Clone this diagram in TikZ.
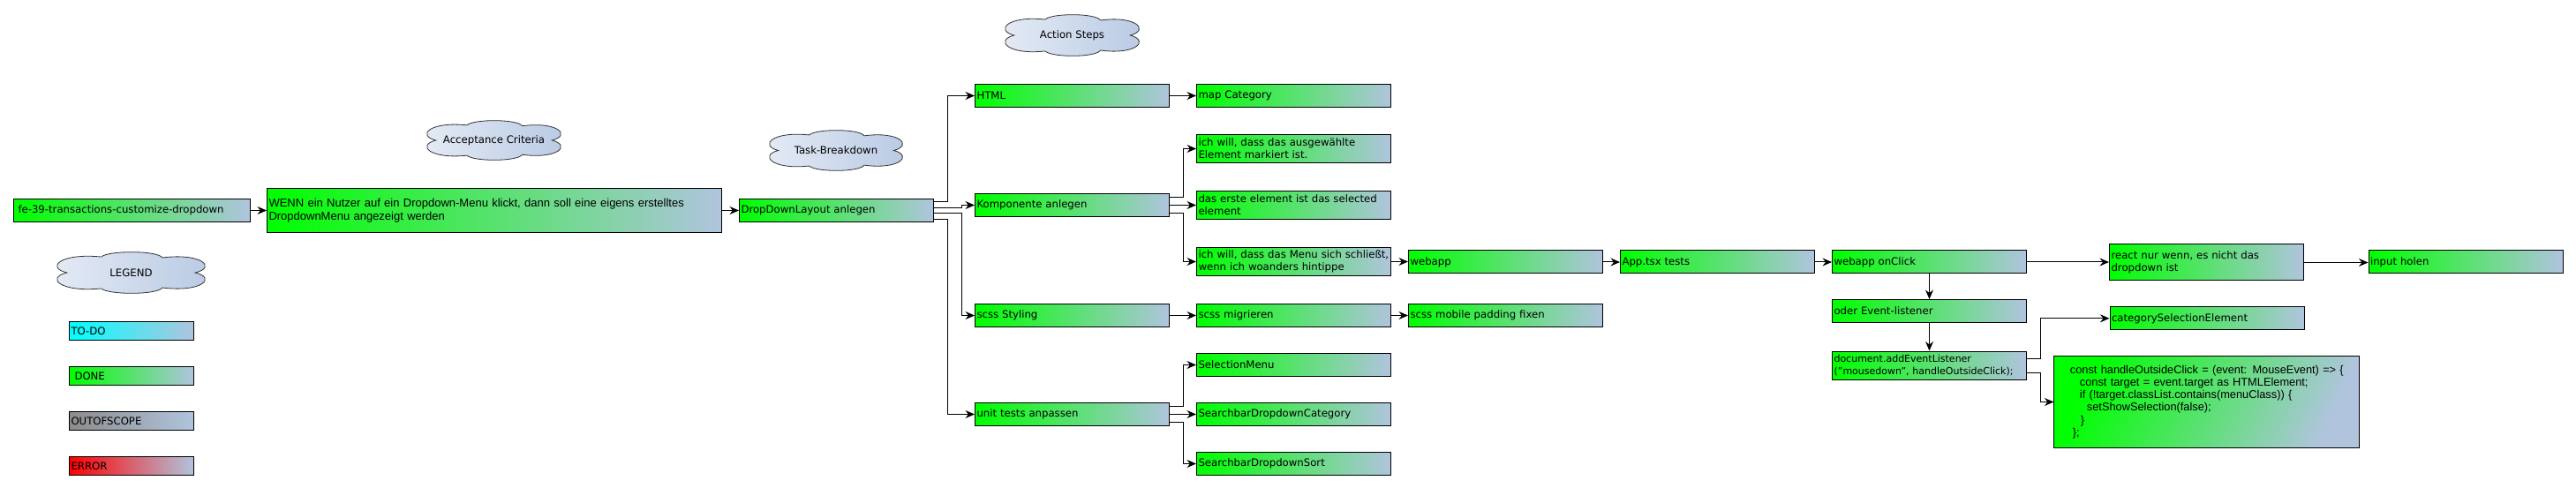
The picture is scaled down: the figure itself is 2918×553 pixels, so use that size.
\documentclass[tikz,border=0pt]{standalone}
\usepackage{fontspec}
\setmainfont{DejaVu Sans}
\newfontfamily\narrowfont{Liberation Sans}
\usetikzlibrary{arrows.meta}
\definecolor{stblue}{HTML}{B0C4DE}
\definecolor{cloudl}{HTML}{E6ECF6}
\definecolor{cloudr}{HTML}{B7C9E3}
\definecolor{oosgray}{HTML}{8C8C8C}
\tikzset{
  card/.style = {draw=black, line width=1pt, anchor=north west, align=left,
    inner xsep=2pt, inner ysep=0pt, right color=stblue, text width=216pt,
    minimum height=26pt, font=\fontsize{11.7}{14}\selectfont},% base box
  done/.style = {card, left color=green},% done task
  todo/.style = {card, left color=cyan},% still open
  oos/.style = {card, left color=oosgray},% out of scope
  err/.style = {card, left color=red},% error
  codebox/.style = {done, shading angle=65,
    font=\narrowfont\fontsize{12.8}{14.3}\selectfont},% code snippet
  cl/.style = {-, draw=black!80, line width=0.8pt, left color=cloudl,
    right color=cloudr},% cloud outline
  cltext/.style = {inner sep=0pt, font=\fontsize{11.7}{14}\selectfont},% cloud title
  titlecloud/.pic = {
    \path [cl] (-0.86,0) .. controls (-1.15,0.25) and (-0.95,0.98) .. (-0.4,0.78)
      .. controls (-0.3,1.1) and (0.35,1.1) .. (0.42,0.74)
      .. controls (0.95,0.98) and (1.15,0.25) .. (0.86,0)
      .. controls (1.15,-0.25) and (0.95,-0.98) .. (0.42,-0.74)
      .. controls (0.35,-1.1) and (-0.3,-1.1) .. (-0.4,-0.78)
      .. controls (-0.95,-0.98) and (-1.15,-0.25) .. (-0.86,0) -- cycle;
  }
}

\begin{document}
\begin{tikzpicture}[x=1pt,y=-1pt,->,>={Stealth[length=10.5pt,width=9pt,inset=3.5pt]},line width=1pt]
\useasboundingbox (0,0) rectangle (2918,553);

% titles
\pic [xscale=84.5, yscale=23] at (148.5,309) {titlecloud};
\node [cltext] (legend) at (148.5,309) {LEGEND};
\pic [xscale=76.5, yscale=22] at (559.5,159) {titlecloud};
\node [cltext] (accept) at (559.5,159) {Acceptance Criteria};
\pic [xscale=76, yscale=22.5] at (947,170.5) {titlecloud};
\node [cltext] (breakdown) at (947,170.5) {Task-Breakdown};
\pic [xscale=76.5, yscale=23] at (1214.5,40) {titlecloud};
\node [cltext] (actions) at (1214.5,40) {Action Steps};

% legend
\node [todo, text width=137pt, minimum height=21pt] (ltodo) at (78,364) {TO-DO};
\node [done, text width=137pt, minimum height=21pt] (ldone) at (78,415) {\hspace*{4pt}DONE};
\node [oos, text width=137pt, minimum height=21pt] (loos) at (78,466) {OUTOFSCOPE};
\node [err, text width=137pt, minimum height=21pt] (lerr) at (78,517) {ERROR};

% story and criteria
\node [done, text width=258pt, inner xsep=5pt] (story) at (15,225) {fe-39-transactions-customize-dropdown};
\node [done, text width=511pt, minimum height=50pt, font=\narrowfont\fontsize{13}{14.3}\selectfont] (crit) at (302,213)
  {WENN ein Nutzer auf ein Dropdown-Menu klickt, dann soll eine eigens erstelltes\\DropdownMenu angezeigt werden};
\node [done] (layout) at (837,225) {DropDownLayout anlegen};

% tasks
\node [done] (html) at (1104,95) {HTML};
\node [done] (komp) at (1104,219) {Komponente anlegen};
\node [done] (scss) at (1104,344) {scss Styling};
\node [done] (unit) at (1104,456) {unit tests anpassen};

% steps
\node [done] (mapcat) at (1355,95) {map Category};
\node [done, minimum height=32pt] (marked) at (1355,152) {ich will, dass das ausgewählte\\Element markiert ist.};
\node [done, minimum height=32pt] (first) at (1355,216) {das erste element ist das selected\\element};
\node [done, minimum height=32pt] (close) at (1355,280) {ich~will,~dass~das~Menu~sich~schließt,\\wenn ich woanders hintippe};
\node [done] (migr) at (1355,344) {scss migrieren};
\node [done] (selmenu) at (1355,400) {SelectionMenu};
\node [done] (barcat) at (1355,456) {SearchbarDropdownCategory};
\node [done] (barsort) at (1355,512) {SearchbarDropdownSort};

\node [done] (padding) at (1595,344) {scss mobile padding fixen};
\node [done] (webapp) at (1595,283.5) {webapp};
\node [done] (apptsx) at (1835,283.5) {App.tsx tests};
\node [done] (onclick) at (2075,283.5) {webapp onClick};
\node [done] (listener) at (2075,339) {oder Event-listener};
\node [done, minimum height=32pt, font=\fontsize{11}{14}\selectfont] (addlist) at (2075,397.5)
  {document.addEventListener\\("mousedown", handleOutsideClick);};
\node [done, minimum height=41pt] (react) at (2389,276.5) {react nur wenn, es nicht das\\dropdown ist};
\node [done] (input) at (2682.5,283.5) {input holen};
\node [done] (catsel) at (2389.5,347.3) {categorySelectionElement};
\node [codebox, text width=342pt, minimum height=103.4pt] (code) at (2326.4,403.3)
  {\hspace*{16pt}const handleOutsideClick = (event: MouseEvent) => \{\\
   \hspace*{27pt}const target = event.target as HTMLElement;\\
   \hspace*{27pt}if (!target.classList.contains(menuClass)) \{\\
   \hspace*{35pt}setShowSelection(false);\\
   \hspace*{28pt}\}\\
   \hspace*{19pt}\};};

% connectors
\draw (story) -- (crit);
\draw (crit) -- (layout);
\draw ([yshift=9.75pt]layout.east) -- ++(15pt,0) |- (html.west);
\draw ([yshift=3.25pt]layout.east) -- ++(31pt,0) |- (komp.west);
\draw ([yshift=-3.25pt]layout.east) -- ++(31pt,0) |- (scss.west);
\draw ([yshift=-9.75pt]layout.east) -- ++(15pt,0) |- (unit.west);
\draw (html) -- (mapcat);
\draw ([yshift=8.67pt]komp.east) -- ++(15pt,0) |- (marked.west);
\draw (komp.east) -- (komp.east -| first.west);
\draw ([yshift=-8.67pt]komp.east) -- ++(15pt,0) |- (close.west);
\draw (scss) -- (migr);
\draw (migr) -- (padding);
\draw ([yshift=8.67pt]unit.east) -- ++(15pt,0) |- (selmenu.west);
\draw (unit.east) -- (unit.east -| barcat.west);
\draw ([yshift=-8.67pt]unit.east) -- ++(15pt,0) |- (barsort.west);
\draw (close.east) -- (close.east -| webapp.west);
\draw (webapp) -- (apptsx);
\draw (apptsx) -- (onclick);
\draw (onclick.east) -- (onclick.east -| react.west);
\draw (react.east) -- (react.east -| input.west);
\draw (onclick) -- (listener);
\draw (listener) -- (addlist);
\draw ([yshift=8pt]addlist.east) -- ++(15pt,0) |- (catsel.west);
\draw ([yshift=-8pt]addlist.east) -- ++(15pt,0) |- (code.west);
\end{tikzpicture}
\end{document}
